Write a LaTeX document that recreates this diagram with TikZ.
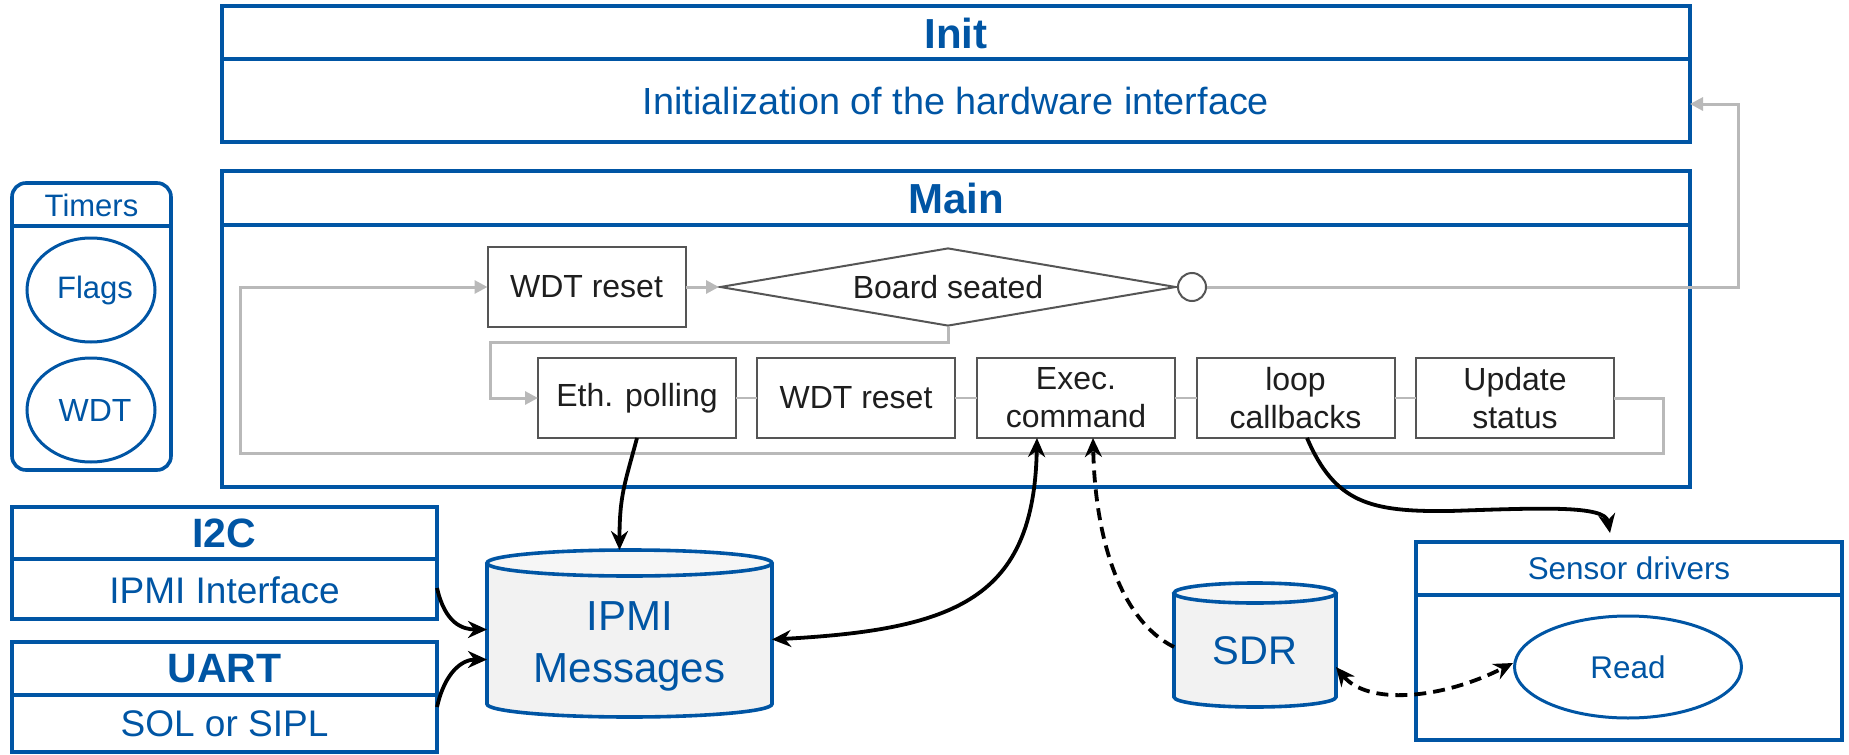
\documentclass[tikz,border=0pt]{standalone}
\usepackage{fontspec}
\setmainfont{Liberation Sans}
\usetikzlibrary{shapes.geometric,arrows.meta,calc}

\definecolor{blu}{RGB}{0,85,164}
\definecolor{flowgray}{RGB}{185,185,185}
\definecolor{boxgray}{RGB}{85,85,85}
\definecolor{txt}{RGB}{30,30,30}
\definecolor{dbfill}{RGB}{242,242,242}
\definecolor{dbtop}{RGB}{246,246,246}

\newcommand{\fsz}[2]{\fontsize{#1pt}{#2pt}\selectfont}

\begin{document}
\begin{tikzpicture}[x=0.5pt,y=-0.5pt,
  blubox/.style={draw=blu,line width=1.8pt,inner sep=0pt,outer sep=0pt},
  bluline/.style={draw=blu,line width=1.8pt},
  blutext/.style={text=blu,inner sep=0pt},
  bluell/.style={draw=blu,line width=1.5pt,ellipse,inner sep=0pt,text=blu},
  fbox/.style={draw=boxgray,line width=1pt,fill=white,text=txt,minimum width=99pt,
    minimum height=40pt,inner sep=0pt,outer sep=0pt,align=center,font=\fsz{16}{19}},
  flow/.style={draw=flowgray,line width=1.5pt},
  flowthin/.style={draw=flowgray,line width=1pt},
  flowarr/.style={flow,-{Triangle[length=6.5pt,width=6.5pt]}},
  conn/.style={draw=black,line width=1.9pt},
  cend/.style={conn,-{Stealth[length=9.5pt,width=8.5pt]}},
  cboth/.style={conn,{Stealth[length=9.5pt,width=8.5pt]}-{Stealth[length=9.5pt,width=8.5pt]}},
  dashy/.style={dash pattern=on 6pt off 3.5pt},
]
\useasboundingbox (0,0) rectangle (1849,755);

% ---------- Init ----------
\node[blubox,minimum width=734pt,minimum height=68pt] (init) at (956,74) {};
\draw[bluline] (init.west |- 0,59) -- (init.east |- 0,59);
\node[blutext,font=\bfseries\fsz{21}{25}] (inittitle) at (956,33) {Init};
\node[blutext,font=\fsz{18.9}{23}] (initdesc) at (956,101) {Initialization of the hardware interface};

% ---------- Main ----------
\node[blubox,minimum width=734pt,minimum height=158pt] (main) at (956,329) {};
\draw[bluline] (main.west |- 0,225) -- (main.east |- 0,225);
\node[blutext,font=\bfseries\fsz{21}{25}] (maintitle) at (956,198) {Main};

% ---------- Timers ----------
\node[blubox,rounded corners=7pt,minimum width=79.5pt,minimum height=143.5pt] (timers) at (91.5,326.5) {};
\draw[bluline] (timers.west |- 0,226) -- (timers.east |- 0,226);
\node[blutext,font=\fsz{15.5}{18}] (timerstitle) at (91.5,205) {Timers};
\node[bluell,minimum width=64pt,minimum height=52pt,font=\fsz{15.5}{18}] (flags) at (91,290) {\hspace{4pt}Flags};
\node[bluell,minimum width=64pt,minimum height=52pt,font=\fsz{16}{19}] (wdt) at (91,410) {\hspace{4pt}WDT};

% ---------- I2C / UART ----------
\node[blubox,minimum width=212.5pt,minimum height=56pt] (i2c) at (224.5,563) {};
\draw[bluline] (i2c.west |- 0,559) -- (i2c.east |- 0,559);
\node[blutext,font=\bfseries\fsz{20.5}{24}] (i2ctitle) at (224.5,533) {I2C};
\node[blutext,font=\fsz{18.5}{22}] (i2cdesc) at (224.5,590) {IPMI Interface};

\node[blubox,minimum width=212.5pt,minimum height=55pt] (uart) at (224.5,697) {};
\draw[bluline] (uart.west |- 0,695) -- (uart.east |- 0,695);
\node[blutext,font=\bfseries\fsz{20.5}{24}] (uarttitle) at (224.5,669) {UART};
\node[blutext,font=\fsz{18.5}{22}] (uartdesc) at (224.5,724) {SOL or SIPL};

% ---------- IPMI Messages store ----------
\node[minimum width=142.5pt,minimum height=83.5pt,inner sep=0pt,outer sep=0pt] (ipmi) at (629.5,633.5) {};
\fill[dbfill] (487,563) -- (487,704) arc[start angle=180,end angle=360,x radius=71.25pt,y radius=6.5pt]
  -- (772,563) arc[start angle=0,end angle=180,x radius=71.25pt,y radius=6.5pt] -- cycle;
\draw[bluline] (487,563) -- (487,704) arc[start angle=180,end angle=360,x radius=71.25pt,y radius=6.5pt] -- (772,563);
\draw[bluline,fill=dbtop] (629.5,563) ellipse [x radius=71.25pt,y radius=6.5pt];
\node[blutext,align=center,font=\fsz{21}{26}] (ipmilabel) at (629.5,646) {IPMI\\Messages};

% ---------- SDR store ----------
\node[minimum width=81pt,minimum height=62pt,inner sep=0pt,outer sep=0pt] (sdr) at (1255,645) {};
\fill[dbfill] (1174,593) -- (1174,697) arc[start angle=180,end angle=360,x radius=40.5pt,y radius=5pt]
  -- (1336,593) arc[start angle=0,end angle=180,x radius=40.5pt,y radius=5pt] -- cycle;
\draw[bluline] (1174,593) -- (1174,697) arc[start angle=180,end angle=360,x radius=40.5pt,y radius=5pt] -- (1336,593);
\draw[bluline,fill=dbtop] (1255,593) ellipse [x radius=40.5pt,y radius=5pt];
\node[blutext,font=\fsz{20}{24}] (sdrlabel) at (1255,651) {SDR};

% ---------- Sensor drivers ----------
\node[blubox,minimum width=213pt,minimum height=99pt] (sens) at (1629,641) {};
\draw[bluline] (sens.west |- 0,595) -- (sens.east |- 0,595);
\node[blutext,font=\fsz{15.7}{19}] (senstitle) at (1629,568.5) {Sensor drivers};
\node[bluell,minimum width=113.5pt,minimum height=51pt,font=\fsz{15.7}{19}] (read) at (1628,667) {Read};

% ---------- Main loop flow ----------
\node[fbox] (wdta) at (586.5,287) {WDT reset};
\node[diamond,aspect=5.85,draw=boxgray,line width=1pt,fill=white,text=txt,inner sep=0pt,
  minimum width=228pt,minimum height=39pt,font=\fsz{16}{19}] (dia) at (948,287) {Board seated};
\node[circle,draw=boxgray,line width=1pt,fill=white,minimum size=14pt,inner sep=0pt] (circ) at (1192,287) {};

\node[fbox] (eth) at (637,398) {Eth. polling};
\node[fbox] (wdtb) at (856,398) {WDT reset};
\node[fbox] (exec) at (1076,398) {Exec.\\command};
\node[fbox] (loopcb) at (1295.5,398) {loop\\callbacks};
\node[fbox] (upd) at (1515,398) {Update\\status};

\draw[flowarr] (upd.east) -- ++(49,0) |- (240,453) |- (wdta.west);
\draw[flowarr] (wdta.east) -- (dia.west);
\draw[flowarr] (circ.east) -- (1738,287) |- ([yshift=-15pt]init.east);
\draw[flowarr] (dia.south) |- (490,342) |- (eth.west);
\draw[flowthin] (eth.east) -- (wdtb.west);
\draw[flowthin] (wdtb.east) -- (exec.west);
\draw[flowthin] (exec.east) -- (loopcb.west);
\draw[flowthin] (loopcb.east) -- (upd.west);

% ---------- Data connectors ----------
\draw[cend] (eth.south) .. controls +(-12,45) and +(0,-55) .. ([xshift=-5pt]ipmi.north);
\draw[cboth] ([yshift=-3pt]ipmi.east) .. controls +(185,-10) and +(-3,160) .. ([xshift=-19.5pt]exec.south);
\draw[cend,dashy] ([yshift=-1pt]sdr.west) .. controls +(-54,-27) and +(2,100) .. ([xshift=8.5pt]exec.south);
\draw[cend] ([xshift=5.75pt]loopcb.south) .. controls +(28,65) and +(-80,1) .. (1450,511)
  .. controls +(90,-3) and +(-5,-28) .. ([xshift=-9.5pt,yshift=4.5pt]sens.north);
\draw[cend] ([yshift=-12.5pt]i2c.east) .. controls +(8,35) and +(-25,0) .. ([yshift=2pt]ipmi.west);
\draw[cend] ([yshift=-5pt]uart.east) .. controls +(8,-35) and +(-25,0) .. ([yshift=-13pt]ipmi.west);
\draw[cboth,dashy] ([yshift=-11pt]sdr.east) .. controls +(31,38) and +(-73,37) .. ([yshift=2pt]read.west);

\end{tikzpicture}
\end{document}
